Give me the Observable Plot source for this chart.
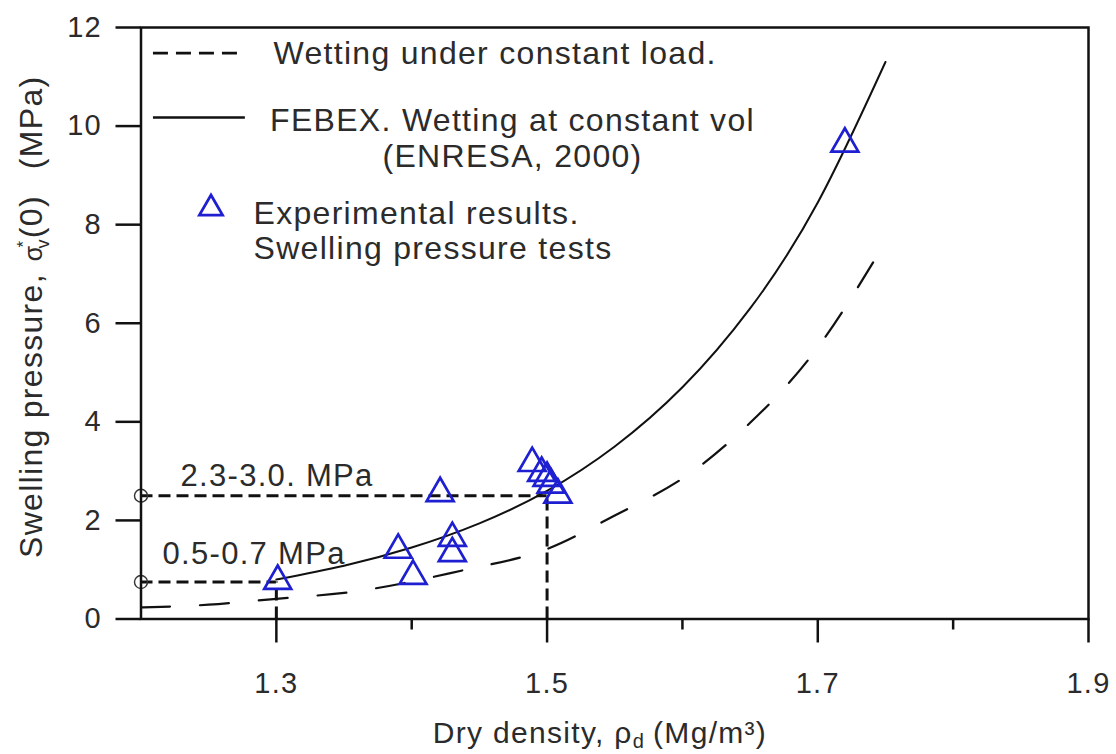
<!DOCTYPE html>
<html>
<head>
<meta charset="utf-8">
<script src="https://cdn.jsdelivr.net/npm/d3@7"></script>
<script src="https://cdn.jsdelivr.net/npm/@observablehq/plot@0.6"></script>
<style>
  body { margin: 0; background: #fff; }
  #chart svg { display: block; }
  #chart svg text { letter-spacing: 1.3px; }
</style>
</head>
<body>
<div id="chart"></div>
<script>
// Swelling pressure tests (dry density in Mg/m3, pressure in MPa)
const testDensity  = [1.301, 1.390, 1.401, 1.421, 1.430, 1.430, 1.489, 1.496, 1.500, 1.503, 1.508, 1.720];
const testPressure = [0.77, 1.40, 0.87, 2.55, 1.64, 1.33, 3.16, 2.96, 2.86, 2.72, 2.52, 9.64];

// FEBEX bentonite, wetting at constant volume (ENRESA, 2000)
const febexDensity  = [1.30, 1.35, 1.40, 1.45, 1.50, 1.55, 1.60, 1.65, 1.70, 1.75];
const febexPressure = [0.80, 1.08, 1.45, 1.94, 2.60, 3.50, 4.70, 6.30, 8.45, 11.30];

// Wetting under constant load
const loadDensity  = [1.20, 1.25, 1.30, 1.35, 1.40, 1.45, 1.50, 1.55, 1.60, 1.65, 1.70, 1.75];
const loadPressure = [0.235, 0.29, 0.41, 0.53, 0.76, 1.06, 1.42, 2.10, 2.85, 3.98, 5.51, 7.65];

// Pressure ranges read at two reference densities
const rangeLabels   = ["2.3-3.0. MPa", "0.5-0.7 MPa"];
const rangeDensity  = [1.5, 1.3];
const rangePressure = [2.5, 0.75];

// Axis ticks
const xTicks      = [1.3, 1.5, 1.7, 1.9];
const xMinorTicks = [1.4, 1.6, 1.8];
const yTicks      = [0, 2, 4, 6, 8, 10, 12];

// Legend entries
const legendLabels = [
  "Wetting under constant load.",
  "FEBEX. Wetting at constant vol\n(ENRESA, 2000)",
  "Experimental results.\nSwelling pressure tests"
];

const tests = testDensity.map((d, i) => ({density: d, pressure: testPressure[i]}));
const febex = febexDensity.map((d, i) => ({density: d, pressure: febexPressure[i]}));
const load  = loadDensity.map((d, i) => ({density: d, pressure: loadPressure[i]}));
const ranges = rangeLabels.map((label, i) => ({label, density: rangeDensity[i], pressure: rangePressure[i]}));

const ink = "#111";
const textInk = "#2b2b2b";
const blue = "#1f1fd2";
const xMin = 1.2;

const chart = Plot.plot({
  width: 1116,
  height: 754,
  marginLeft: 140.5,
  marginRight: 28,
  marginTop: 27,
  marginBottom: 135.5,
  style: {fontFamily: "'Liberation Sans', Arial, sans-serif", background: "#fff", color: textInk},
  x: {domain: [1.2, 1.9]},
  y: {domain: [0, 12]},
  marks: [
    // axes
    Plot.axisX(xTicks, {tickSize: 24, tickPadding: 29, fontSize: 29, stroke: ink, strokeWidth: 2.5,
      fill: textInk, tickFormat: d3.format(".1f"), label: null}),
    Plot.axisX(xMinorTicks, {tickSize: 11, stroke: ink, strokeWidth: 2.5, fill: "none", label: null}),
    Plot.axisY(yTicks, {tickSize: 25, tickPadding: 14, fontSize: 29, stroke: ink, strokeWidth: 2.5,
      fill: textInk, label: null}),

    // reference ranges
    Plot.ruleY(ranges, {y: "pressure", x1: xMin, x2: "density", stroke: ink, strokeWidth: 3, strokeDasharray: "12,6"}),
    Plot.ruleX(ranges, {x: "density", y1: 0, y2: "pressure", stroke: ink, strokeWidth: 3, strokeDasharray: "12,6"}),
    Plot.dot(ranges, {x: xMin, y: "pressure", r: 6.5, stroke: "#333", strokeWidth: 1.4, fill: "none"}),
    Plot.text(ranges.slice(0, 1), {x: 1.2292, y: "pressure", text: "label", dy: -10, textAnchor: "start",
      lineAnchor: "bottom", fontSize: 31, fill: textInk}),
    Plot.text(ranges.slice(1), {x: 1.2159, y: "pressure", text: "label", dy: -18, textAnchor: "start",
      lineAnchor: "bottom", fontSize: 31, fill: textInk}),

    // curves
    Plot.line(load, {x: "density", y: "pressure", curve: "natural", stroke: ink, strokeWidth: 2.2, strokeDasharray: "29,30"}),
    Plot.line(febex, {x: "density", y: "pressure", curve: "natural", stroke: ink, strokeWidth: 2}),

    // experimental points
    Plot.dot(tests, {x: "density", y: "pressure", symbol: "triangle", r: 10, stroke: blue, strokeWidth: 2.7, fill: "none"}),

    // legend
    Plot.ruleY([11.48], {x1: 1.2092, x2: 1.2734, stroke: ink, strokeWidth: 2.6, strokeDasharray: "15,8"}),
    Plot.ruleY([10.174], {x1: 1.2092, x2: 1.2771, stroke: ink, strokeWidth: 2.4}),
    Plot.dot([0], {x: 1.2517, y: 8.33, symbol: "triangle", r: 8.6, stroke: blue, strokeWidth: 2.8, fill: "none"}),
    Plot.text(legendLabels.slice(0, 1), {frameAnchor: "top-left", dx: 132.5, dy: 13.6, textAnchor: "start",
      lineAnchor: "top", fontSize: 32, fill: textInk}),
    Plot.text(legendLabels.slice(1, 2), {frameAnchor: "top-left", dx: 371.5, dy: 77.6, textAnchor: "middle",
      lineAnchor: "top", lineHeight: 1.13, fontSize: 32, fill: textInk}),
    Plot.text(legendLabels.slice(2, 3), {frameAnchor: "top-left", dx: 112.5, dy: 171.6, textAnchor: "start",
      lineAnchor: "top", lineHeight: 1.1, fontSize: 32, fill: textInk}),

    Plot.frame({stroke: ink, strokeWidth: 2.5})
  ]
});

document.getElementById("chart").append(chart);

// Axis titles with sub/superscripts
const svg = d3.select(chart);
const font = "'Liberation Sans', Arial, sans-serif";

const xTitle = svg.append("text")
  .attr("x", 600).attr("y", 743)
  .attr("text-anchor", "middle")
  .attr("font-family", font).attr("font-size", 30).attr("fill", textInk);
xTitle.append("tspan").text("Dry density, ρ");
xTitle.append("tspan").attr("font-size", 20).attr("dy", 5).text("d");
xTitle.append("tspan").attr("dy", -5).attr("dx", 8).text("(Mg/m³)");

const yTitle = svg.append("text")
  .attr("transform", "translate(42,558) rotate(-90)")
  .attr("text-anchor", "start")
  .attr("font-family", font).attr("font-size", 32).attr("fill", textInk);
yTitle.append("tspan").text("Swelling pressure,");
yTitle.append("tspan").attr("dx", 12).attr("font-size", 25).text("σ");
yTitle.append("tspan").attr("font-size", 17).attr("dy", -13).attr("dx", -3).text("*");
yTitle.append("tspan").attr("font-size", 18).attr("dy", 20).attr("dx", -9).text("v");
yTitle.append("tspan").attr("dy", -7).text("(0)");
yTitle.append("tspan").attr("dx", 26).text("(MPa)");
</script>
</body>
</html>
